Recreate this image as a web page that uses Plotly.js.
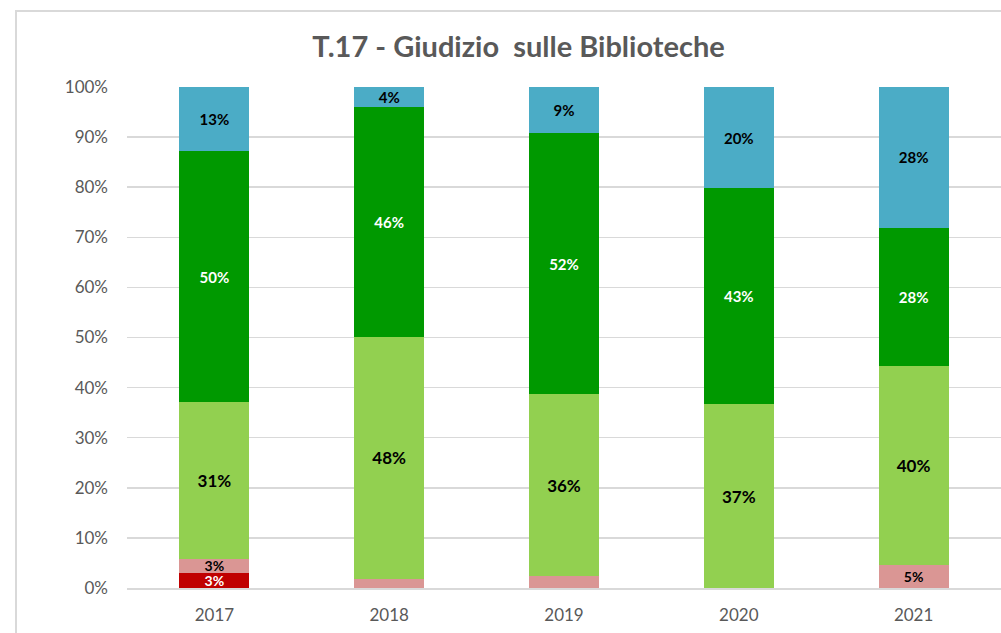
<!DOCTYPE html>
<html>
<head>
<meta charset="utf-8">
<script src="https://cdn.plot.ly/plotly-3.0.1.min.js"></script>
<style>
  html, body { margin: 0; padding: 0; background: #fff; overflow: hidden; }
  #chart { width: 1001px; height: 633px; }
</style>
</head>
<body>
<div id="chart"></div>
<script>
const years = ['2017', '2018', '2019', '2020', '2021'];
const seriesNames = ['Molto negativo', 'Negativo', 'Positivo', 'Molto positivo', 'Eccellente'];
const veryNeg   = [3.0, 0, 0, 0, 0];
const neg       = [2.8, 1.8, 2.3, 0, 4.6];
const pos       = [31.3, 48.3, 36.4, 36.7, 39.7];
const veryPos   = [50.1, 45.9, 52.1, 43.1, 27.6];
const excellent = [12.8, 4.0, 9.2, 20.2, 28.1];
const yTicks = [0, 10, 20, 30, 40, 50, 60, 70, 80, 90, 100];

const values = [veryNeg, neg, pos, veryPos, excellent];
const colors = ['#C00000', '#DA9694', '#92D050', '#009900', '#4BACC6'];
const textColors = ['#ffffff', '#000000', '#000000', '#ffffff', '#000000'];
const textSizes = [14, 14, 17, 15, 15];
const FONT = 'Lato, "Open Sans", sans-serif';

const traces = values.map((vals, i) => ({
  type: 'bar',
  name: seriesNames[i],
  x: years,
  y: vals,
  marker: { color: colors[i], line: { width: 0 } },
  text: vals.map(v => v >= 2.5 ? Math.round(v) + '%' : ''),
  textposition: 'inside',
  insidetextanchor: 'middle',
  textangle: 0,
  constraintext: 'none',
  textfont: { family: FONT, size: textSizes[i], color: textColors[i], weight: 'bold' },
  hoverinfo: 'x+y+name'
}));

const W = 1001, H = 633, ML = 127, MR = 0, MT = 87, MB = 45;
const pw = W - ML - MR, ph = H - MT - MB;
const px = x => (x - ML) / pw;
const py = y => (H - MB - y) / ph;

const layout = {
  width: W,
  height: H,
  barmode: 'stack',
  bargap: 0.6,
  showlegend: false,
  paper_bgcolor: '#ffffff',
  plot_bgcolor: '#ffffff',
  margin: { l: ML, r: MR, t: MT, b: MB, pad: 0 },
  font: { family: FONT, color: '#595959' },
  title: {
    text: '<b>T.17 - Giudizio  sulle Biblioteche</b>',
    font: { family: FONT, size: 29, color: '#595959' },
    xref: 'container', x: 0.518, xanchor: 'center',
    yref: 'container', y: 1 - 47 / 633, yanchor: 'middle'
  },
  shapes: [
    { type: 'line', xref: 'paper', yref: 'paper', x0: px(16), x1: px(16), y0: py(H + 5), y1: py(10),
      line: { color: '#d9d9d9', width: 2 } },
    { type: 'line', xref: 'paper', yref: 'paper', x0: px(15), x1: px(W + 5), y0: py(11), y1: py(11),
      line: { color: '#d9d9d9', width: 2 } }
  ],
  xaxis: {
    type: 'category',
    showgrid: false,
    showline: true,
    linecolor: '#d9d9d9',
    linewidth: 2,
    ticks: '',
    ticklabelstandoff: 11,
    tickfont: { family: FONT, size: 17, color: '#595959' },
    fixedrange: true
  },
  yaxis: {
    range: [0, 100],
    tickvals: yTicks,
    ticktext: yTicks.map(t => t + '%'),
    showgrid: true,
    gridcolor: '#d9d9d9',
    gridwidth: 1.5,
    zeroline: false,
    showline: false,
    ticks: '',
    ticklabelstandoff: 18,
    tickfont: { family: FONT, size: 17, color: '#595959' },
    fixedrange: true
  }
};

Plotly.newPlot('chart', traces, layout, { displayModeBar: false, staticPlot: true });
</script>
</body>
</html>
